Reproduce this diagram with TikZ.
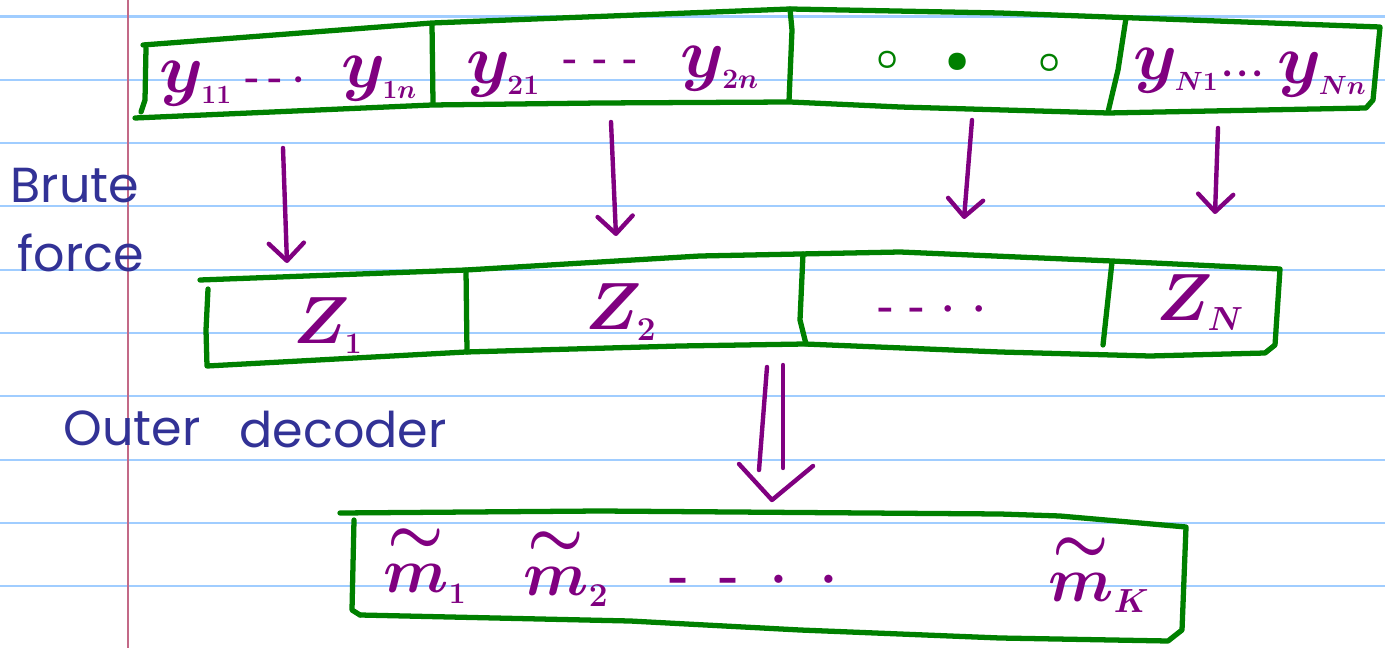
\RequirePackage{fix-cm}
\documentclass[tikz,border=0pt]{standalone}
\usepackage{fontspec}
\newfontfamily\handfont{Poppins}
\usetikzlibrary{arrows.meta}
\definecolor{gr}{RGB}{0,128,0}
\definecolor{pu}{RGB}{128,0,128}
\definecolor{bl}{RGB}{50,50,150}
\definecolor{rulecol}{RGB}{160,205,255}
\definecolor{margincol}{RGB}{195,105,135}
\newcommand\ssub[2]{_{\hbox{\fontsize{#1}{#1}\selectfont$#2$}}}
\newcommand\mk[2]{\makebox[#1][c]{#2}}
\newcommand\tm{\stackrel{\raisebox{4pt}{$\textstyle\sim$}}{m}}
\tikzset{
  box/.style={draw=gr, line width=3pt, line cap=round, line join=round},
  arr/.style={draw=pu, line width=2.5pt, line cap=round, line join=round,
    -{Straight Barb[length=10pt, width=20pt, round]}},
  dbl/.style={draw=pu, line width=2.5pt, line cap=round, line join=round},
  ylab/.style={text=pu, anchor=base, inner sep=0pt, font=\fontsize{40}{40}\selectfont\boldmath},
  zlab/.style={text=pu, anchor=base, inner sep=0pt, font=\fontsize{38}{38}\selectfont\boldmath},
  mlab/.style={text=pu, anchor=base, inner sep=0pt, font=\fontsize{36}{36}\selectfont\boldmath},
  dotlab/.style={text=pu, anchor=center, inner sep=0pt, font=\fontsize{30}{30}\selectfont\bfseries\boldmath},
  smalldots/.style={dotlab, font=\fontsize{22}{22}\selectfont\bfseries\boldmath},
  gdot/.style={text=gr, anchor=center, inner sep=0pt, font=\fontsize{22}{22}\selectfont\boldmath},
  hand/.style={text=bl, anchor=base, inner sep=0pt, font=\fontsize{28}{28}\selectfont\handfont},
  ruled/.style={draw=rulecol, line width=1.2pt},
  marginline/.style={draw=margincol, line width=1pt}
}
\begin{document}
\begin{tikzpicture}[x=0.02cm, y=-0.02cm]
\useasboundingbox (0,0) rectangle (1385,648);
\fill[white] (0,0) rectangle (1385,648);
% ruled paper
\foreach \k in {0,...,9} {
  \draw[ruled] (0,{16.5+63.3*\k}) -- (1385,{16.5+63.3*\k});
}
\draw[marginline] (128,0) -- (128,648);

% ---------- row 1 : received blocks ----------
\draw[box] (143,45) -- (432,23) -- (790,9) -- (1000,13) -- (1380,27) -- (1373,100) -- (1366,108)
  -- (1108,113) -- (900,107) -- (790,102) -- (600,103) -- (432,105) -- (135,118);
\draw[box] (146,48) -- (145,100) -- (141,112);
\draw[box] (432,24) -- (433,103);
\draw[box] (790,9) -- (792,30) -- (789,101);
\draw[box] (1126,18) -- (1118,70) -- (1108,112);

\node[ylab] (y11) at (196,93) {$y\ssub{15}{11}$};
\node[smalldots] (d1) at (276,80) {\mk{0.46cm}{-}\mk{0.46cm}{-}\mk{0.46cm}{$\cdot$}};
\node[ylab] (y1n) at (379,88) {$y\ssub{15}{1n}$};
\node[ylab] (y21) at (503,84) {$y\ssub{16}{21}$};
\node[smalldots] (d2) at (601,65) {\mk{0.6cm}{-}\mk{0.6cm}{-}\mk{0.6cm}{-}};
\node[ylab] (y2n) at (720,78) {$y\ssub{16}{2n}$};
\node[gdot] (g1) at (888,60) {$\circ$};
\node[gdot] (g2) at (958,62) {$\bullet$};
\node[gdot] (g3) at (1050,63) {$\circ$};
\node[ylab] (yN1) at (1176,80) {$y\ssub{15}{N1}$};
\node[smalldots] (d4) at (1243,74) {\mk{0.3cm}{$\cdot$}\mk{0.3cm}{$\cdot$}\mk{0.3cm}{$\cdot$}};
\node[ylab] (yNn) at (1322,84) {$y\ssub{15}{Nn}$};

% ---------- side labels ----------
\node[hand] (brute) at (75,203) {Brute};
\node[hand] (force) at (81,272) {force};
\node[hand] (outer) at (132,445) {Outer};
\node[hand] (decoder) at (343,447) {decoder};

% ---------- arrows row 1 -> row 2 ----------
\coordinate (a1s) at (283,148); \coordinate (a1e) at (287,263);
\coordinate (a2s) at (611,122); \coordinate (a2e) at (616,236);
\coordinate (a3s) at (972,120); \coordinate (a3e) at (964,219);
\coordinate (a4s) at (1218,128); \coordinate (a4e) at (1215,214);
\draw[arr] (a1s) -- (a1e);
\draw[arr] (a2s) -- (a2e);
\draw[arr] (a3s) -- (a3e);
\draw[arr] (a4s) -- (a4e);

% ---------- row 2 : inner codewords ----------
\draw[box] (200,280) -- (466,270) -- (700,256) -- (900,252) -- (1112,261) -- (1280,269)
  -- (1275,345) -- (1265,353) -- (1150,356) -- (1000,352) -- (805,344) -- (680,346)
  -- (466,352) -- (207,366) -- (206,330) -- (208,289);
\draw[box] (466,270) -- (467,352);
\draw[box] (803,254) -- (800,320) -- (806,344);
\draw[box] (1112,262) -- (1103,345);

\node[zlab] (z1) at (328,343) {$Z\ssub{17}{1}$};
\node[zlab] (z2) at (621,330) {$Z\ssub{19}{2}$};
\node[dotlab, font=\fontsize{24}{24}\selectfont\bfseries\boldmath] (dz) at (933,310)
  {\mk{0.62cm}{-}\mk{0.62cm}{-}\mk{0.62cm}{$\cdot$}\mk{0.62cm}{$\cdot$}};
\node[zlab] (zN) at (1200,320) {$Z\ssub{19}{N}$};

% ---------- double arrow row 2 -> row 3 ----------
\coordinate (d1s) at (767,367); \coordinate (d1e) at (759,470);
\coordinate (d2s) at (783,365); \coordinate (d2e) at (783,468);
\coordinate (dvl) at (739,464); \coordinate (dvt) at (772,500); \coordinate (dvr) at (813,466);
\draw[dbl] (d1s) -- (d1e);
\draw[dbl] (d2s) -- (d2e);
\draw[dbl] (dvl) -- (dvt) -- (dvr);

% ---------- row 3 : decoded messages ----------
\draw[box] (340,513) -- (600,511) -- (1000,514) -- (1060,516) -- (1186,527)
  -- (1182,630) -- (1168,641) -- (1000,638) -- (800,630) -- (630,621) -- (360,615);
\draw[box] (354,520) -- (352,610) -- (360,615);

\node[mlab] (m1) at (425,594) {$\tm\ssub{17}{1}$};
\node[mlab] (m2) at (566,597) {$\tm\ssub{19}{2}$};
\node[dotlab] (dm) at (754,580) {\mk{1cm}{-}\mk{1cm}{-}\mk{1cm}{$\cdot$}\mk{1cm}{$\cdot$}};
\node[mlab] (mK) at (1099,603) {$\tm\ssub{19}{K}$};
\end{tikzpicture}
\end{document}
